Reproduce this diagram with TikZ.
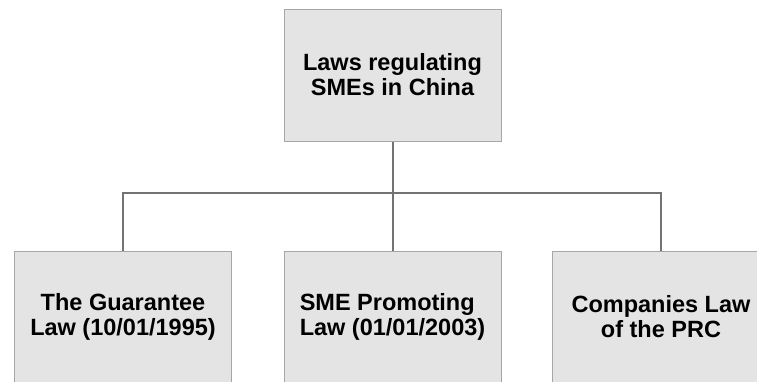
\documentclass[tikz,border=0pt]{standalone}
\usepackage{fontspec}
\setmainfont{Liberation Sans}
\usetikzlibrary{positioning}
\definecolor{boxfill}{HTML}{E4E4E4}
\definecolor{boxline}{HTML}{A6A6A6}
\definecolor{connline}{HTML}{737373}

\begin{document}
\begin{tikzpicture}[x=1pt, y=-1pt,
    lawbox/.style={draw=boxline, fill=boxfill, line width=1pt, minimum width=217pt,
      minimum height=132pt, inner sep=0pt, align=center,
      font=\fontsize{23.5}{25}\selectfont\bfseries},
    conn/.style={draw=connline, line width=2pt}]
  % --- page frame, boxes are cut at the edges ---
  \clip (0,0) rectangle (757,381);
  \fill[white] (0,0) rectangle (757,381);
  % --- boxes ---
  \node[lawbox] (laws) at (392.5,75) {Laws regulating\\SMEs in China};
  \node[lawbox] (guarantee) at (123,317) {The Guarantee\\Law (10/01/1995)};
  \node[lawbox, align=left] (promoting) at (392.5,317) {SME Promoting\\Law (01/01/2003)};
  \node[lawbox] (companies) at (661,317) {Companies Law\\of the PRC};
  % --- connectors ---
  \coordinate (bus) at (392.5,193);
  \draw[conn] (laws.south) -- (promoting.north);
  \draw[conn] (guarantee.north) -- (guarantee.north |- bus) -- (companies.north |- bus) -- (companies.north);
\end{tikzpicture}
\end{document}
